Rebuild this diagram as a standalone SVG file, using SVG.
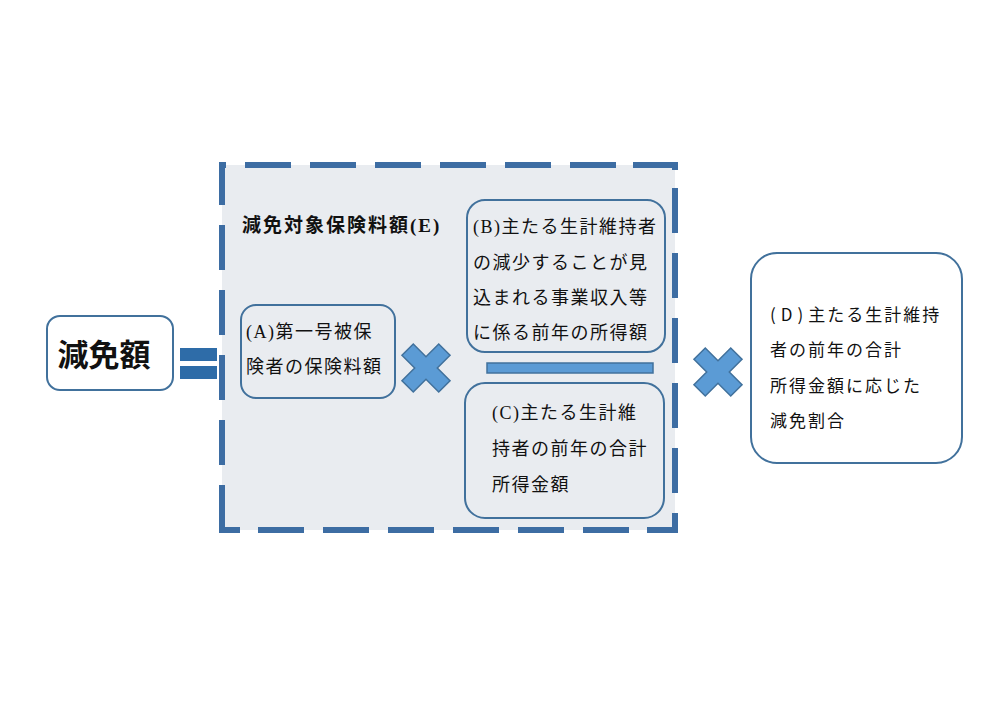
<svg xmlns="http://www.w3.org/2000/svg" width="1000" height="707" viewBox="0 0 1000 707">
<style>
.box{fill:none;stroke:#41719c;stroke-width:2}
.t{font-family:"Liberation Serif","Noto Sans CJK JP",serif;font-size:18px;letter-spacing:1.5px;fill:#111}
.g{font-family:"Noto Sans CJK JP","Liberation Sans",sans-serif;font-size:17px;letter-spacing:2px;fill:#111}
.cross{fill:#5b9bd5;stroke:#41719c;stroke-width:1.5}
.dash{fill:none;stroke:#3d6da3;stroke-width:6;stroke-linejoin:miter;stroke-linecap:butt}
</style>
<defs>
<polygon id="x" points="8,-26 8,-8 26,-8 26,8 8,8 8,26 -8,26 -8,8 -26,8 -26,-8 -8,-8 -8,-26" transform="rotate(45)"/>
</defs>
<rect width="1000" height="707" fill="#fff"/>
<g id="E">
<rect x="222" y="165" width="453" height="365" fill="#e9ecf0"/>
<path class="dash" d="M222,205 V165 H226 M245,165 H291 M310,165 H356 M375,165 H421 M440,165 H486 M505,165 H551 M570,165 H616 M633,165 H675 V170 M675,188 V233 M675,253 V298 M675,318 V363 M675,383 V428 M675,448 V493 M675,513 V530 H647 M583,530 H629 M518,530 H564 M453,530 H499 M388,530 H434 M323,530 H369 M258,530 H304 M240,530 H222 V485 M222,420 V465 M222,355 V400 M222,290 V335 M222,225 V270"/>
<text class="t" x="242" y="232" style="font-size:19px;font-weight:bold;letter-spacing:2px">減免対象保険料額(E)</text>
</g>
<g id="genmengaku">
<rect class="box" x="47" y="316" width="126" height="74" rx="13" style="fill:#fff"/>
<text x="104" y="366" text-anchor="middle" style="font-family:'Liberation Serif','Noto Sans CJK JP',serif;font-size:31px;font-weight:bold;fill:#111">減免額</text>
</g>
<g id="connectors">
<rect x="180" y="348" width="37" height="13" fill="#2e6ca8"/>
<rect x="180" y="366" width="37" height="13" fill="#2e6ca8"/>
<use href="#x" class="cross" transform="translate(426,368)"/>
<rect x="487" y="363" width="166" height="10" fill="#5b9bd5" stroke="#41719c" stroke-width="1.5"/>
<use href="#x" class="cross" transform="translate(718,372)"/>
</g>
<g id="A">
<rect class="box" x="241" y="305" width="154" height="93" rx="15"/>
<text class="t" x="246" y="338">(A)第一号被保</text>
<text class="t" x="246" y="373">険者の保険料額</text>
</g>
<g id="B">
<rect class="box" x="467" y="200" width="198" height="152" rx="18"/>
<text class="t" x="473" y="233">(B)主たる生計維持者</text>
<text class="t" x="473" y="269">の減少することが見</text>
<text class="t" x="473" y="304">込まれる事業収入等</text>
<text class="t" x="473" y="339">に係る前年の所得額</text>
</g>
<g id="C">
<rect class="box" x="465" y="383" width="199" height="135" rx="20"/>
<text class="t" x="492" y="419">(C)主たる生計維</text>
<text class="t" x="492" y="455">持者の前年の合計</text>
<text class="t" x="492" y="491">所得金額</text>
</g>
<g id="D">
<rect class="box" x="751" y="253" width="211" height="210" rx="26" style="fill:#fff"/>
<text class="g" x="770" y="321"><tspan style="letter-spacing:5px">(D)</tspan>主たる生計維持</text>
<text class="g" x="770" y="356">者の前年の合計</text>
<text class="g" x="770" y="392">所得金額に応じた</text>
<text class="g" x="770" y="427">減免割合</text>
</g>
</svg>
